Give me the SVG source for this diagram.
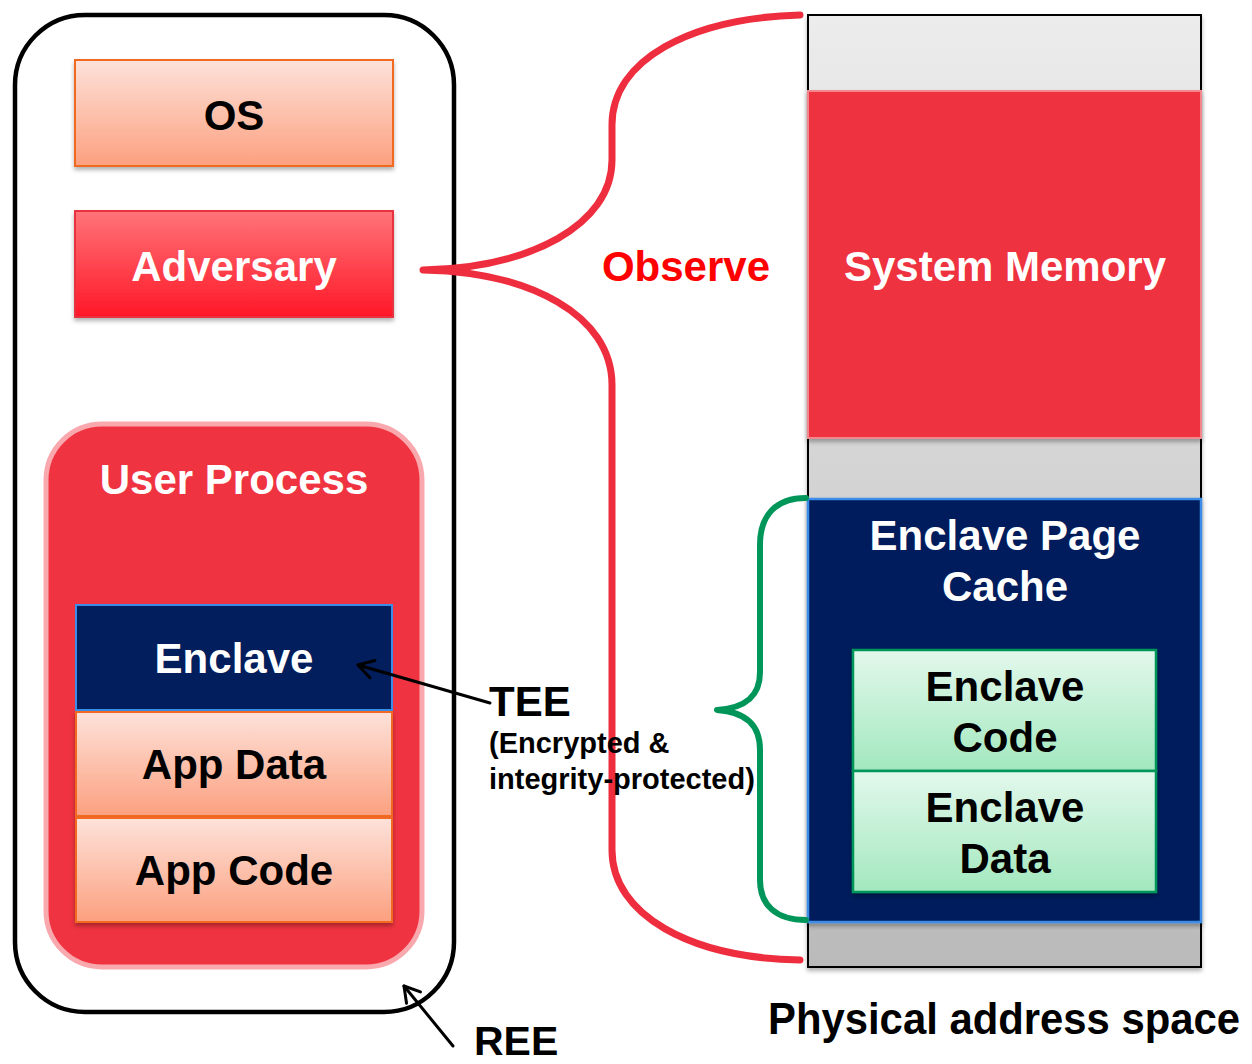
<svg xmlns="http://www.w3.org/2000/svg" width="1252" height="1064" viewBox="0 0 1252 1064">
  <defs>
    <linearGradient id="peach" x1="0" y1="0" x2="0" y2="1">
      <stop offset="0" stop-color="#fde2da"/>
      <stop offset="1" stop-color="#fca07f"/>
    </linearGradient>
    <linearGradient id="redGrad" x1="0" y1="0" x2="0" y2="1">
      <stop offset="0" stop-color="#ff7479"/>
      <stop offset="1" stop-color="#ff1727"/>
    </linearGradient>
    <linearGradient id="mint" x1="0" y1="0" x2="0" y2="1">
      <stop offset="0" stop-color="#e3f8ec"/>
      <stop offset="1" stop-color="#a2e8be"/>
    </linearGradient>
    <linearGradient id="grayCol" x1="0" y1="0" x2="0" y2="1">
      <stop offset="0" stop-color="#ececec"/>
      <stop offset="1" stop-color="#bababa"/>
    </linearGradient>
    <filter id="shadow" x="-10%" y="-10%" width="120%" height="130%">
      <feDropShadow dx="0" dy="3" stdDeviation="2" flood-color="#000" flood-opacity="0.3"/>
    </filter>
    <marker id="openArrow" viewBox="0 0 24 24" refX="20" refY="12" markerWidth="24" markerHeight="24" markerUnits="userSpaceOnUse" orient="auto">
      <path d="M 5 3 L 20 12 L 5 21" fill="none" stroke="#000" stroke-width="3" stroke-linecap="round" stroke-linejoin="round"/>
    </marker>
  </defs>
  <style>
    text { font-family: "Liberation Sans", Arial, sans-serif; font-weight: bold; text-anchor: middle; }
    .big { font-size: 42px; }
    .white { fill: #ffffff; }
    .black { fill: #000000; }
    .peachBox { fill: url(#peach); stroke: #f26a21; stroke-width: 2; }
    .mintBox { fill: url(#mint); stroke: #00965a; stroke-width: 2.5; }
  </style>

  <rect width="1252" height="1064" fill="#ffffff"/>

  <!-- REE container -->
  <g id="ree">
    <rect x="15" y="15" width="439" height="997" rx="70" ry="70" fill="none" stroke="#000" stroke-width="4.5"/>
  </g>

  <g id="os">
    <rect class="peachBox" x="75" y="60" width="318" height="106" filter="url(#shadow)"/>
    <text class="big black" x="234" y="130">OS</text>
  </g>

  <g id="adversary">
    <rect x="75" y="211" width="318" height="106" fill="url(#redGrad)" stroke="#e8323f" stroke-width="2" filter="url(#shadow)"/>
    <text class="big white" x="234" y="281">Adversary</text>
  </g>

  <g id="user-process">
    <rect x="46" y="424" width="376" height="543" rx="56" ry="56" fill="#ef3340" stroke="#f9a9ae" stroke-width="5"/>
    <text class="big white" x="234" y="494">User Process</text>
  </g>

  <g id="enclave">
    <rect x="76" y="605" width="316" height="105" fill="#021e5c" stroke="#3b8de8" stroke-width="2"/>
    <text class="big white" x="234" y="673">Enclave</text>
  </g>

  <g id="app-data">
    <rect class="peachBox" x="76" y="712" width="316" height="104" filter="url(#shadow)"/>
    <text class="big black" x="234" y="779">App Data</text>
  </g>

  <g id="app-code">
    <rect class="peachBox" x="76" y="818" width="316" height="104" filter="url(#shadow)"/>
    <text class="big black" x="234" y="885">App Code</text>
  </g>

  <!-- Physical address space column -->
  <g id="physical-memory">
    <rect x="808" y="15" width="393" height="952" fill="url(#grayCol)" stroke="#000" stroke-width="2" filter="url(#shadow)"/>
  </g>

  <g id="system-memory">
    <rect x="808" y="91" width="393" height="347" fill="#ef3340" stroke="#f2878d" stroke-width="2" filter="url(#shadow)"/>
    <text class="big white" x="1005" y="281">System Memory</text>
  </g>

  <g id="epc">
    <rect x="808" y="499" width="393" height="423" fill="#021e5c" stroke="#3b8de8" stroke-width="2.5" filter="url(#shadow)"/>
    <text class="big white" x="1005" y="550">Enclave Page</text>
    <text class="big white" x="1005" y="601">Cache</text>
  </g>

  <g id="enclave-code">
    <rect class="mintBox" x="853" y="650" width="303" height="121" filter="url(#shadow)"/>
    <text class="big black" x="1005" y="701">Enclave</text>
    <text class="big black" x="1005" y="752">Code</text>
  </g>

  <g id="enclave-data">
    <rect class="mintBox" x="853" y="771" width="303" height="121" filter="url(#shadow)"/>
    <text class="big black" x="1005" y="822">Enclave</text>
    <text class="big black" x="1005" y="873">Data</text>
  </g>

  <!-- Connectors: braces and pointer arrows -->
  <g id="connectors" fill="none" stroke-linecap="round" stroke-linejoin="round">
    <path d="M 800 15 C 690 18, 612 60, 612 125 L 612 160 C 612 225, 530 268, 423 270 C 530 272, 612 315, 612 385 L 612 850 C 612 915, 690 958, 800 960" stroke="#ee2e3f" stroke-width="7"/>
    <path d="M 806 498 C 776 498, 760 515, 760 545 L 760 672 C 760 696, 746 708, 717 710 C 746 712, 760 725, 760 750 L 760 880 C 760 905, 776 920, 806 920" stroke="#00965a" stroke-width="6"/>
    <line x1="490" y1="703" x2="358" y2="665" stroke="#000" stroke-width="3" marker-end="url(#openArrow)"/>
    <line x1="453" y1="1046" x2="404" y2="986" stroke="#000" stroke-width="3" marker-end="url(#openArrow)"/>
  </g>

  <!-- Free labels -->
  <g id="labels">
    <text x="686" y="281" font-size="42" fill="#ff0000">Observe</text>
    <text x="489" y="716" font-size="42" fill="#000" style="text-anchor:start">TEE</text>
    <text x="489" y="753" font-size="29" fill="#000" style="text-anchor:start">(Encrypted &amp;</text>
    <text x="489" y="789" font-size="29" fill="#000" style="text-anchor:start">integrity-protected)</text>
    <text x="474" y="1055" font-size="41" fill="#000" style="text-anchor:start">REE</text>
    <text transform="translate(768 1034) scale(0.93 1)" x="0" y="0" font-size="45" fill="#000" style="text-anchor:start">Physical address space</text>
  </g>
</svg>
